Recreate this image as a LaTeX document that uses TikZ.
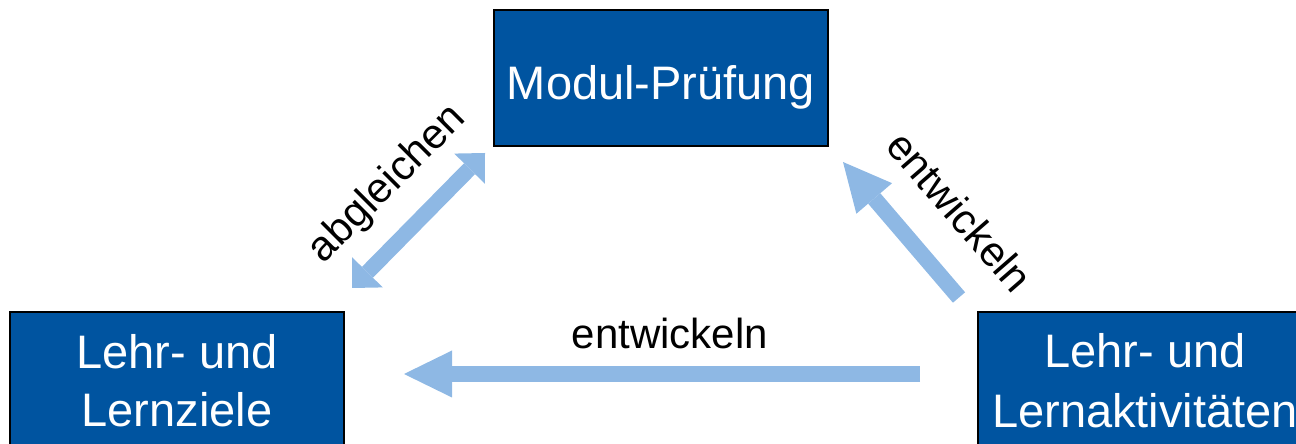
\documentclass[tikz,border=0pt]{standalone}
\usepackage{fontspec}
\setmainfont{Liberation Sans}
\usetikzlibrary{arrows.meta}
\definecolor{boxblue}{RGB}{0,84,160}
\definecolor{arrowblue}{RGB}{142,184,228}
\tikzset{
  box/.style={draw=black, line width=1.5pt, fill=boxblue, minimum width=334pt, minimum height=136pt, inner sep=0pt, outer sep=0pt},
  boxtext/.style={text=white, font=\fontsize{47}{56}\selectfont, inner sep=0pt, anchor=base},
  lbl/.style={text=black, font=\fontsize{42}{48}\selectfont, inner sep=0pt},
  bigarrow/.style={draw=arrowblue, line width=16pt, -{Triangle[length=48pt,width=47pt,line width=0pt]}},
  dblarrow/.style={draw=arrowblue, line width=15.5pt, {Triangle[length=22pt,width=43pt,line width=0pt]}-{Triangle[length=22pt,width=43pt,line width=0pt]}},
}
\begin{document}
\begin{tikzpicture}[x=1pt,y=1pt]
\useasboundingbox (0,0) rectangle (1296,444);
\clip (0,0) rectangle (1296,444);
% boxes
\node[box] (pruef) at (661,366) {};
\node[box] (ziele) at (177,64) {};
\node[box] (akt) at (1145,64) {};
% box texts
\node[boxtext] (t1) at (661,344) {Modul-Prüfung};
\node[boxtext] (t2a) at (177,75) {Lehr- und};
\node[boxtext] (t2b) at (177,17) {Lernziele};
\node[boxtext] (t3a) at (1145,76) {Lehr- und};
\node[boxtext] (t3b) at (1145,16) {Lernaktivitäten};
% arrow end points
\coordinate (hA) at (920,70);
\coordinate (hB) at (404,70);
\coordinate (dA) at (352,156);
\coordinate (dB) at (485,291);
\coordinate (rA) at (959,146.5);
\coordinate (rB) at (843,282);
\draw[bigarrow] (hA) -- (hB);
\draw[dblarrow] (dA) -- (dB);
\draw[bigarrow] (rA) -- (rB);
% labels
\node[lbl, rotate=45] (abg) at (388,259.5) {abgleichen};
\node[lbl, anchor=base] (ent1) at (670,95) {entwickeln};
\node[lbl, rotate=-49] (ent2) at (960,232.5) {entwickeln};
\end{tikzpicture}
\end{document}
